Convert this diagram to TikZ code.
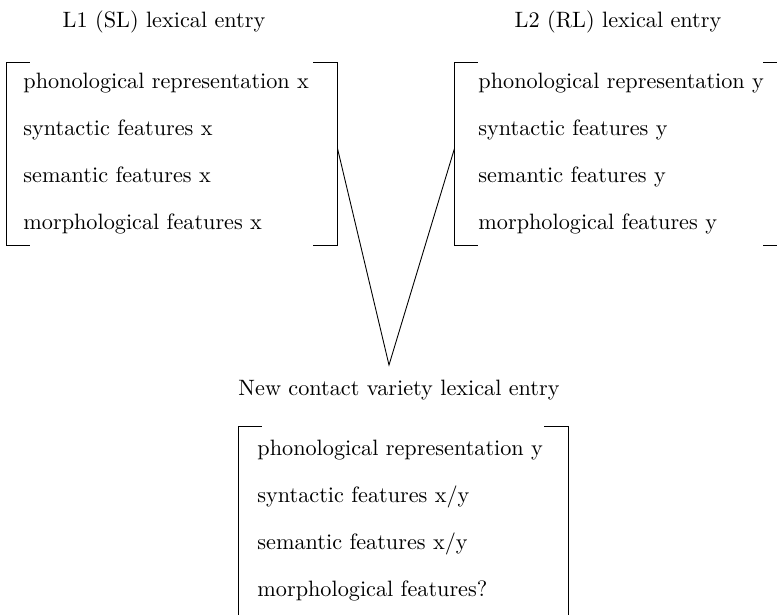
\documentclass[tikz,border=0pt]{standalone}
\usetikzlibrary{fit}

\newcommand{\entrybrackets}[1]{%
  \draw (#1.north west) ++(23,0) -| (#1.south west) -- ++(23,0);
  \draw (#1.north east) ++(-24,0) -| (#1.south east) -- ++(-24,0);
}

\begin{document}
\begin{tikzpicture}
  [x=0.45pt, y=-0.45pt,
    title/.style={anchor=base},
    feature/.style={anchor=base west, inner sep=0pt},
    entrybox/.style={inner sep=0pt}]
  \clip (0,0) rectangle (777,614);
  % L1 entry
  \node[title] (sltitle) at (164,27) {L1 (SL) lexical entry};
  \node[entrybox, fit={(7,63) (337,245)}] (slbox) {};
  \node[feature] (slphon) at (23,88) {phonological representation x};
  \node[feature] (slsyn) at (23,135) {syntactic features x};
  \node[feature] (slsem) at (23,182) {semantic features x};
  \node[feature] (slmorph) at (23,229) {morphological features x};
  \entrybrackets{slbox}
  % L2 entry
  \node[title] (rltitle) at (618,27) {L2 (RL) lexical entry};
  \node[entrybox, fit={(455,63) (787,245)}] (rlbox) {};
  \node[feature] (rlphon) at (478,88) {phonological representation y};
  \node[feature] (rlsyn) at (478,135) {syntactic features y};
  \node[feature] (rlsem) at (478,182) {semantic features y};
  \node[feature] (rlmorph) at (478,229) {morphological features y};
  \entrybrackets{rlbox}
  % contact variety
  \coordinate (meet) at (389,365);
  \draw (slbox.2) -- (meet) -- (rlbox.178);
  \node[title] (newtitle) at (399,395) {New contact variety lexical entry};
  \node[entrybox, fit={(239,427) (568,620)}] (newbox) {};
  \node[feature] (newphon) at (257,455) {phonological representation y};
  \node[feature] (newsyn) at (257,502) {syntactic features x/y};
  \node[feature] (newsem) at (257,549) {semantic features x/y};
  \node[feature] (newmorph) at (257,596) {morphological features?};
  \entrybrackets{newbox}
\end{tikzpicture}
\end{document}
